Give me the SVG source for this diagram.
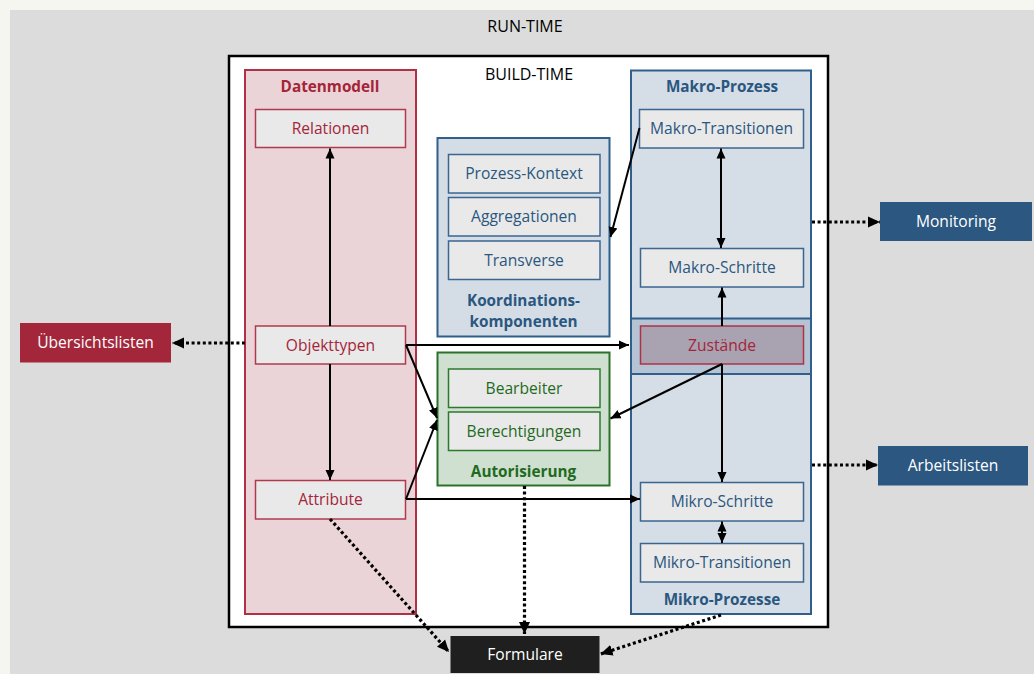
<svg xmlns="http://www.w3.org/2000/svg" width="1034" height="674" viewBox="0 0 1034 674">
  <style>
    text { font-family: "Open Sans", "Noto Sans", "Liberation Sans", sans-serif; text-anchor: middle; }
    .lbl { font-size: 15.6px; }
    .ttl { font-size: 15.3px; font-weight: bold; }
    .plain { font-size: 16px; fill: #000; }
    .red { fill: #a4253a; }
    .blue { fill: #2a5780; }
    .green { fill: #1e6b1e; }
    .white { fill: #ffffff; }
    .item-red { fill: #e9e9e9; stroke: #b03a4c; stroke-width: 1.5; }
    .item-blue { fill: #e9e9e9; stroke: #3a6690; stroke-width: 1.5; }
    .item-green { fill: #e9e9e9; stroke: #2d7a2d; stroke-width: 1.5; }
    .solid { fill: none; stroke: #000; stroke-width: 2; }
    .dotted { fill: none; stroke: #000; stroke-width: 3.2; stroke-dasharray: 3 2.6; }
  </style>
  <defs>
    <marker id="arrow" markerUnits="userSpaceOnUse" markerWidth="11" markerHeight="10" refX="10" refY="5" orient="auto-start-reverse">
      <path d="M0,0.5 L10,5 L0,9.5 z" fill="#000"/>
    </marker>
    <marker id="arrow-dot" markerUnits="userSpaceOnUse" markerWidth="13" markerHeight="12" refX="12" refY="6" orient="auto">
      <path d="M0,0.5 L12,6 L0,11.5 z" fill="#000"/>
    </marker>
  </defs>

  <!-- page and run-time area -->
  <rect x="0" y="0" width="1034" height="674" fill="#f6f6f0"/>
  <rect x="10" y="10" width="1024" height="664" fill="#dcdcdc"/>
  <text class="plain" x="525" y="32">RUN-TIME</text>

  <!-- build-time area -->
  <g id="build-time">
    <rect x="229" y="56" width="599" height="571" fill="#ffffff" stroke="#000" stroke-width="2.5"/>
    <text class="plain" x="529" y="80">BUILD-TIME</text>
  </g>

  <!-- data model -->
  <g id="datenmodell">
    <rect x="245" y="70" width="171" height="544" fill="#ebd4d8" stroke="#b03045" stroke-width="2"/>
    <text class="ttl red" x="330" y="92">Datenmodell</text>
  </g>
  <g id="relationen">
    <rect class="item-red" x="255.5" y="109.5" width="150" height="38"/>
    <text class="lbl red" x="330.5" y="134">Relationen</text>
  </g>
  <g id="objekttypen">
    <rect class="item-red" x="255.5" y="326" width="150" height="38"/>
    <text class="lbl red" x="330.5" y="350.5">Objekttypen</text>
  </g>
  <g id="attribute">
    <rect class="item-red" x="255.5" y="480.5" width="150" height="38.5"/>
    <text class="lbl red" x="330.5" y="505">Attribute</text>
  </g>

  <!-- coordination components -->
  <g id="koordinationskomponenten">
    <rect x="437.5" y="138" width="172" height="198.5" fill="#d4dde6" stroke="#2f5f8a" stroke-width="2"/>
    <text class="ttl blue" x="523.5" y="306">Koordinations-</text>
    <text class="ttl blue" x="523.5" y="326.5">komponenten</text>
  </g>
  <g id="prozess-kontext">
    <rect class="item-blue" x="448.5" y="154.5" width="151.5" height="38.5"/>
    <text class="lbl blue" x="524" y="179">Prozess-Kontext</text>
  </g>
  <g id="aggregationen">
    <rect class="item-blue" x="448.5" y="197.5" width="151.5" height="38.5"/>
    <text class="lbl blue" x="524" y="222">Aggregationen</text>
  </g>
  <g id="transverse">
    <rect class="item-blue" x="448.5" y="241" width="151.5" height="38.5"/>
    <text class="lbl blue" x="524" y="265.5">Transverse</text>
  </g>

  <!-- authorisation -->
  <g id="autorisierung">
    <rect x="437.5" y="352.5" width="172" height="133" fill="#cfdfd0" stroke="#2a722a" stroke-width="2"/>
    <text class="ttl green" x="523.5" y="476.5">Autorisierung</text>
  </g>
  <g id="bearbeiter">
    <rect class="item-green" x="448.5" y="369" width="151.5" height="38.5"/>
    <text class="lbl green" x="524" y="393.5">Bearbeiter</text>
  </g>
  <g id="berechtigungen">
    <rect class="item-green" x="448.5" y="412" width="151.5" height="38.5"/>
    <text class="lbl green" x="524" y="436.5">Berechtigungen</text>
  </g>

  <!-- macro / micro process column -->
  <g id="makro-prozess">
    <rect x="631" y="70.5" width="180" height="543.5" fill="#d5dde6" stroke="#2f5f8a" stroke-width="2"/>
    <text class="ttl blue" x="722" y="92">Makro-Prozess</text>
  </g>
  <g id="mikro-prozesse">
    <rect x="631" y="318.5" width="180" height="55.5" fill="#b4c4d4" stroke="#2f5f8a" stroke-width="2"/>
    <text class="ttl blue" x="722" y="605">Mikro-Prozesse</text>
  </g>
  <g id="makro-transitionen">
    <rect class="item-blue" x="639.5" y="109.5" width="164" height="38.5"/>
    <text class="lbl blue" x="721.5" y="134">Makro-Transitionen</text>
  </g>
  <g id="makro-schritte">
    <rect class="item-blue" x="640.5" y="248.5" width="163" height="38.5"/>
    <text class="lbl blue" x="722" y="273">Makro-Schritte</text>
  </g>
  <g id="zustaende">
    <rect x="640.5" y="326" width="163" height="38" fill="#a9a2b0" stroke="#b03045" stroke-width="1.5"/>
    <text class="lbl red" x="722" y="350.5">Zustände</text>
  </g>
  <g id="mikro-schritte">
    <rect class="item-blue" x="640.5" y="482.5" width="163" height="38.5"/>
    <text class="lbl blue" x="722" y="507">Mikro-Schritte</text>
  </g>
  <g id="mikro-transitionen">
    <rect class="item-blue" x="640.5" y="543.5" width="163" height="38.5"/>
    <text class="lbl blue" x="722" y="568">Mikro-Transitionen</text>
  </g>

  <!-- run-time outputs -->
  <g id="uebersichtslisten">
    <rect x="20" y="323" width="151" height="39.5" fill="#a4263a"/>
    <text class="lbl white" x="95.5" y="348">Übersichtslisten</text>
  </g>
  <g id="monitoring">
    <rect x="880" y="202" width="152" height="39" fill="#2b5781"/>
    <text class="lbl white" x="956" y="227">Monitoring</text>
  </g>
  <g id="arbeitslisten">
    <rect x="878" y="446" width="150" height="39.5" fill="#2b5781"/>
    <text class="lbl white" x="953" y="471">Arbeitslisten</text>
  </g>
  <g id="formulare">
    <rect x="450.5" y="636" width="149" height="37" fill="#1f1f1f"/>
    <text class="lbl white" x="525" y="660">Formulare</text>
  </g>

  <!-- connectors -->
  <g id="connectors">
    <line class="solid" x1="330" y1="326" x2="330" y2="148.5" marker-end="url(#arrow)"/>
    <line class="solid" x1="330" y1="364" x2="330" y2="480" marker-end="url(#arrow)"/>
    <line class="solid" x1="406" y1="345" x2="629" y2="345" marker-end="url(#arrow)"/>
    <line class="solid" x1="406" y1="345" x2="437" y2="418" marker-end="url(#arrow)"/>
    <line class="solid" x1="406" y1="499" x2="437" y2="420" marker-end="url(#arrow)"/>
    <line class="solid" x1="406" y1="499" x2="640" y2="499" marker-end="url(#arrow)"/>
    <line class="solid" x1="639.5" y1="128" x2="610.5" y2="237" marker-end="url(#arrow)"/>
    <line class="solid" x1="721" y1="148.5" x2="721" y2="248" marker-start="url(#arrow)" marker-end="url(#arrow)"/>
    <line class="solid" x1="722" y1="326" x2="722" y2="287.5" marker-end="url(#arrow)"/>
    <line class="solid" x1="722" y1="364" x2="722" y2="482" marker-end="url(#arrow)"/>
    <line class="solid" x1="722" y1="364" x2="610.5" y2="418.5" marker-end="url(#arrow)"/>
    <line class="solid" x1="722" y1="521.5" x2="722" y2="543" marker-start="url(#arrow)" marker-end="url(#arrow)"/>

    <line class="dotted" x1="245" y1="343" x2="172" y2="343" marker-end="url(#arrow-dot)"/>
    <line class="dotted" x1="812" y1="222" x2="880" y2="222" marker-end="url(#arrow-dot)"/>
    <line class="dotted" x1="812" y1="465" x2="878" y2="465" marker-end="url(#arrow-dot)"/>
    <line class="dotted" x1="330" y1="519" x2="449" y2="652" marker-end="url(#arrow-dot)"/>
    <line class="dotted" x1="524.5" y1="486" x2="524.5" y2="634" marker-end="url(#arrow-dot)"/>
    <line class="dotted" x1="721" y1="615" x2="600.5" y2="654" marker-end="url(#arrow-dot)"/>
  </g>
</svg>
